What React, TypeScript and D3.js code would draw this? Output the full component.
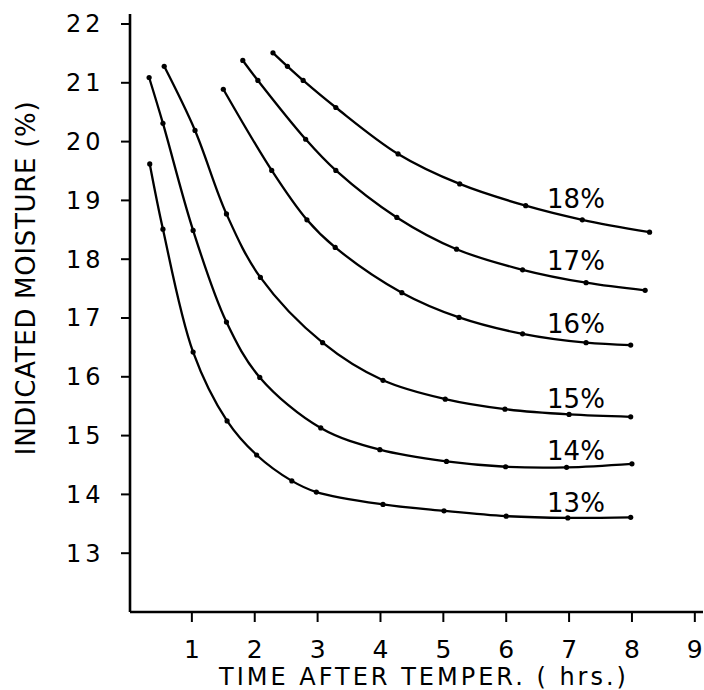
import React from "react";
import * as d3 from "d3";

const xTicks = [1, 2, 3, 4, 5, 6, 7, 8, 9];
const yTicks = [13, 14, 15, 16, 17, 18, 19, 20, 21, 22];

const seriesNames = ["13%", "14%", "15%", "16%", "17%", "18%"];

const t13 = [0.33, 0.54, 1.02, 1.56, 2.03, 2.59, 2.98, 4.04, 5.01, 6.0, 6.98, 7.98];
const v13 = [19.62, 18.51, 16.42, 15.25, 14.67, 14.23, 14.04, 13.83, 13.72, 13.63, 13.6, 13.61];

const t14 = [0.32, 0.54, 1.02, 1.55, 2.08, 3.05, 3.99, 5.05, 5.99, 6.96, 8.0];
const v14 = [21.09, 20.31, 18.49, 16.93, 15.99, 15.13, 14.76, 14.56, 14.47, 14.46, 14.52];

const t15 = [0.56, 1.05, 1.55, 2.09, 3.08, 4.04, 5.03, 5.98, 7.0, 7.98];
const v15 = [21.28, 20.19, 18.77, 17.69, 16.58, 15.94, 15.62, 15.45, 15.36, 15.32];

const t16 = [1.5, 2.27, 2.83, 3.28, 4.34, 5.25, 6.26, 7.27, 7.98];
const v16 = [20.89, 19.51, 18.67, 18.2, 17.43, 17.01, 16.73, 16.58, 16.54];

const t17 = [1.81, 2.05, 2.81, 3.29, 4.26, 5.21, 6.26, 7.27, 8.21];
const v17 = [21.38, 21.04, 20.04, 19.51, 18.71, 18.17, 17.82, 17.6, 17.47];

const t18 = [2.29, 2.52, 2.77, 3.29, 4.28, 5.26, 6.31, 7.21, 8.28];
const v18 = [21.51, 21.28, 21.04, 20.58, 19.79, 19.28, 18.91, 18.67, 18.46];

const labelT = [6.65, 6.65, 6.65, 6.65, 6.65, 6.65];
const labelV = [13.7, 14.58, 15.47, 16.74, 17.81, 18.87];

const allT = [t13, t14, t15, t16, t17, t18];
const allV = [v13, v14, v15, v16, v17, v18];

const W = 704;
const H = 690;
const FONT = "'DejaVu Sans', Verdana, sans-serif";

export default function App() {
  const x = d3.scaleLinear().domain([0, 9.13]).range([129, 703]);
  const y = d3.scaleLinear().domain([12, 22.17]).range([612, 14]);

  const line = d3
    .line<[number, number]>()
    .x((d) => x(d[0]))
    .y((d) => y(d[1]))
    .curve(d3.curveCatmullRom.alpha(0.5));

  const x0 = x(0) + 1;
  const yBottom = y(12);

  return (
    <svg
      width={W}
      height={H}
      style={{ position: "absolute", left: 0, top: 0, background: "#fff" }}
    >
      <rect width={W} height={H} fill="#fff" />
      {/* axes */}
      <line x1={x0} x2={x0} y1={y(22.17)} y2={yBottom} stroke="#000" strokeWidth={2.6} />
      <line x1={x0} x2={x(9.13)} y1={yBottom} y2={yBottom} stroke="#000" strokeWidth={2.6} />
      {yTicks.map((v) => (
        <g key={"yt" + v}>
          <line x1={x0 - 9} x2={x0} y1={y(v)} y2={y(v)} stroke="#000" strokeWidth={2} />
          <text
            x={66}
            y={y(v) + 8.5}
            fontFamily={FONT}
            fontSize={24}
            letterSpacing={4}
            textAnchor="start"
            fill="#000"
          >
            {v}
          </text>
        </g>
      ))}
      {xTicks.map((t) => (
        <g key={"xt" + t}>
          <line x1={x(t)} x2={x(t)} y1={yBottom} y2={yBottom + 10} stroke="#000" strokeWidth={2} />
          <text
            x={x(t)}
            y={658}
            fontFamily={FONT}
            fontSize={25}
            textAnchor="middle"
            fill="#000"
          >
            {t}
          </text>
        </g>
      ))}
      <text
        x={424}
        y={685}
        fontFamily={FONT}
        fontSize={24}
        letterSpacing={3}
        textAnchor="middle"
        fill="#000"
      >
        TIME AFTER TEMPER. ( hrs.)
      </text>
      <text
        transform={`translate(35,278) rotate(-90)`}
        fontFamily={FONT}
        fontSize={26}
        letterSpacing={0.7}
        textAnchor="middle"
        fill="#000"
      >
        INDICATED MOISTURE (%)
      </text>
      {/* curves */}
      {allT.map((ts, i) => {
        const pts: [number, number][] = ts.map((t, j) => [t, allV[i][j]]);
        return (
          <g key={"s" + i}>
            <path d={line(pts) || ""} fill="none" stroke="#000" strokeWidth={2.3} />
            {pts.map((p, j) => (
              <circle key={j} cx={x(p[0])} cy={y(p[1])} r={2.6} fill="#000" />
            ))}
            <text
              x={x(labelT[i])}
              y={y(labelV[i])}
              fontFamily={FONT}
              fontSize={26}
              fill="#000"
            >
              {seriesNames[i]}
            </text>
          </g>
        );
      })}
    </svg>
  );
}
